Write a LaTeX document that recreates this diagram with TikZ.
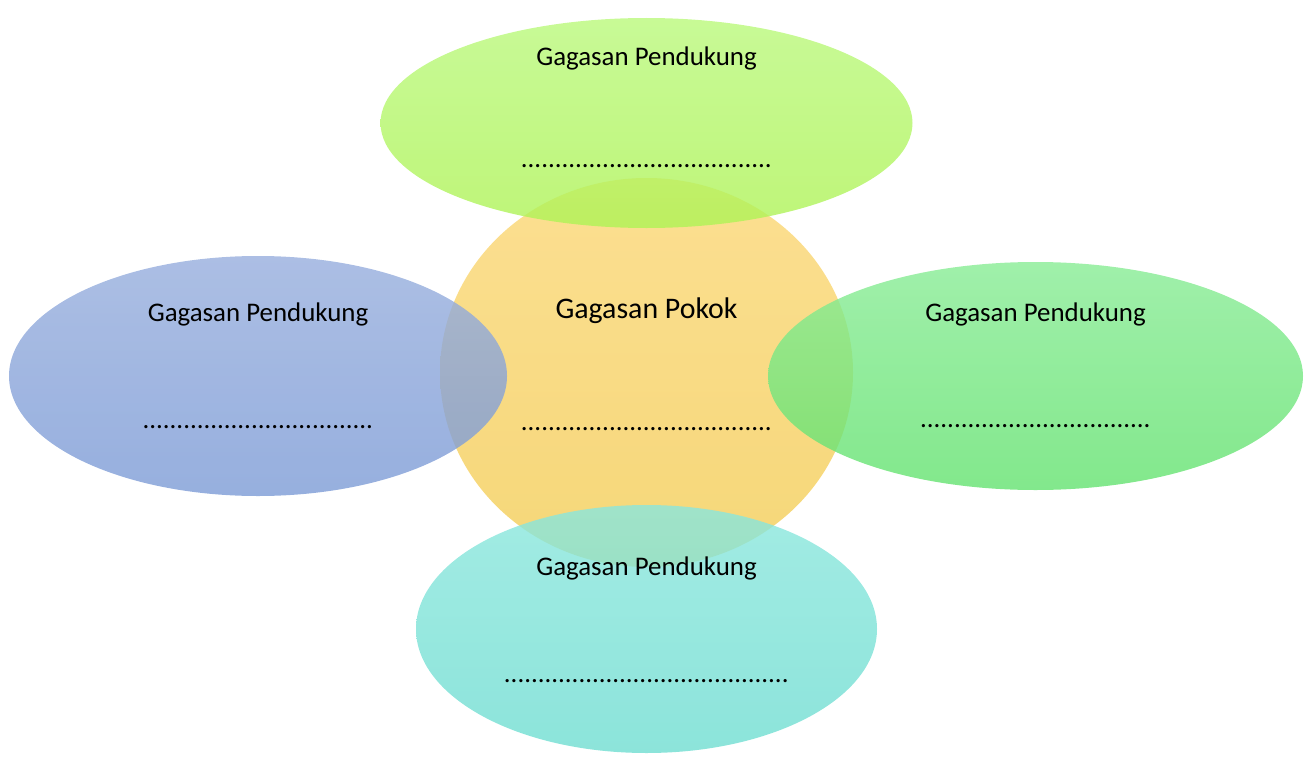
\documentclass[tikz,border=0pt]{standalone}
\usepackage{fontspec}
\setmainfont{Carlito}
\usetikzlibrary{shapes.geometric}

\newcommand{\titik}[1]{\foreach \i in {1,...,#1}{.}}

\begin{document}
\begin{tikzpicture}

    \definecolor{hijautop}{RGB}{186,249,124}
    \definecolor{hijaubot}{RGB}{174,243,86}
    \definecolor{kuningtop}{RGB}{251,215,118}
    \definecolor{kuningbot}{RGB}{243,205,86}
    \definecolor{birutop}{RGB}{151,174,221}
    \definecolor{birubot}{RGB}{124,155,214}
    \definecolor{daunttop}{RGB}{136,236,149}
    \definecolor{daunbot}{RGB}{99,226,111}
    \definecolor{tosqatop}{RGB}{139,231,221}
    \definecolor{tosqabot}{RGB}{111,221,209}
    \tikzset{
        gelembung/.style={ellipse, inner sep=0pt, fill opacity=0.8, draw=none},
        judul/.style={font=\fontsize{15.3}{18}\selectfont, text=black},
        pokok/.style={font=\fontsize{17}{20}\selectfont, text=black}
    }
    \useasboundingbox (0,0) rectangle (26.18,15.14);

    % Draw the main idea in the middle
    \node[gelembung, top color=kuningtop, bottom color=kuningbot, minimum width=8.26cm, minimum height=7.78cm] (pusat) at (12.93,7.69) {};

    % Draw the four supporting ideas round it
    \node[gelembung, top color=hijautop, bottom color=hijaubot, minimum width=10.64cm, minimum height=4.2cm] (atas) at (12.93,12.68) {};
    \node[gelembung, top color=birutop, bottom color=birubot, minimum width=9.96cm, minimum height=4.8cm] (kiri) at (5.16,7.62) {};
    \node[gelembung, top color=daunttop, bottom color=daunbot, minimum width=10.7cm, minimum height=4.56cm] (kanan) at (20.71,7.62) {};
    \node[gelembung, top color=tosqatop, bottom color=tosqabot, minimum width=9.22cm, minimum height=4.96cm] (bawah) at (12.93,2.56) {};

    % Write the labels
    \node[pokok] (pusatjudul) at (12.93,8.92) {Gagasan Pokok};
    \node[judul] (pusattitik) at (12.93,6.56) {\titik{37}};

    \node[judul] (atasjudul) at (12.93,13.98) {Gagasan Pendukung};
    \node[judul] (atastitik) at (12.93,11.82) {\titik{37}};

    \node[judul] (kirijudul) at (5.16,8.86) {Gagasan Pendukung};
    \node[judul] (kiritititk) at (5.16,6.60) {\titik{34}};

    \node[judul] (kananjudul) at (20.71,8.86) {Gagasan Pendukung};
    \node[judul] (kanantitik) at (20.71,6.62) {\titik{34}};

    \node[judul] (bawahjudul) at (12.93,3.78) {Gagasan Pendukung};
    \node[judul] (bawahtitik) at (12.93,1.52) {\titik{42}};

\end{tikzpicture}
\end{document}
